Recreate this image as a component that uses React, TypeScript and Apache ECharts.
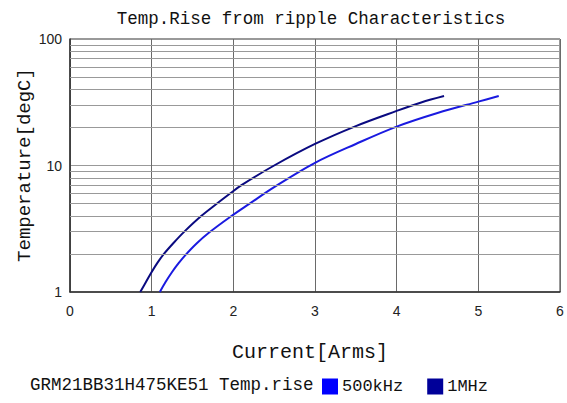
import React, { useEffect, useRef } from "react";
import * as echarts from "echarts";

const titleText = "Temp.Rise from ripple Characteristics";
const xName = "Current[Arms]";
const yName = "Temperature[degC]";
const partLabel = "GRM21BB31H475KE51 Temp.rise";
const seriesNames = ["500kHz", "1MHz"];
const seriesColors = ["#0000ff", "#000099"];

const data500k: [number, number][] = [
  [1.10, 1], [1.17, 1.2], [1.25, 1.44], [1.33, 1.69], [1.41, 1.95], [1.55, 2.42], [1.70, 2.94],
  [1.96, 3.92], [2.2, 5.0], [2.5, 6.75], [3, 10.5], [3.5, 14.8], [4, 20.3], [4.5, 26],
  [5, 32], [5.25, 35.4],
];
const data1M: [number, number][] = [
  [0.86, 1], [0.93, 1.2], [1.0, 1.44], [1.07, 1.7], [1.15, 2], [1.27, 2.45], [1.40, 3],
  [1.61, 4], [1.80, 5], [1.96, 6], [2.10, 7], [2.5, 10.0], [3, 14.8], [3.5, 20.5],
  [4, 27], [4.3, 31.5], [4.58, 35.4],
];
const minorGridValues = [2, 3, 4, 5, 6, 7, 8, 9, 20, 30, 40, 50, 60, 70, 80, 90];

const FONT = "'Liberation Mono', 'DejaVu Sans Mono', monospace";

export default function App() {
  const ref = useRef<HTMLDivElement>(null);
  useEffect(() => {
    if (!ref.current) return;
    const chart = echarts.init(ref.current, undefined, { renderer: "svg" });
    chart.setOption({
      animation: false,
      backgroundColor: "#ffffff",
      title: {
        text: titleText,
        left: 306,
        textAlign: "center",
        top: 5,
        textStyle: { fontFamily: FONT, fontSize: 17.5, fontWeight: "normal", color: "#111" },
      },
      grid: {
        left: 70, right: 7, top: 39, bottom: 111,
        show: true, borderColor: "#333", borderWidth: 1,
      },
      xAxis: {
        type: "value", min: 0, max: 6, interval: 1,
        name: xName, nameLocation: "middle", nameGap: 50,
        nameTextStyle: { fontFamily: FONT, fontSize: 20, color: "#111", padding: [0, 10, 0, 0] },
        axisLine: { show: true, lineStyle: { color: "#333", width: 1.5 } },
        axisTick: { show: false },
        axisLabel: { fontFamily: "'Liberation Sans', sans-serif", fontSize: 14, color: "#222", margin: 12 },
        splitLine: { show: true, lineStyle: { color: "#6a6a6a", width: 1 } },
      },
      yAxis: {
        type: "log", logBase: 10, min: 1, max: 100,
        axisLine: { show: true, lineStyle: { color: "#333", width: 1.5 } },
        axisTick: { show: false },
        axisLabel: { fontFamily: "'Liberation Sans', sans-serif", fontSize: 14, color: "#222", margin: 8 },
        splitLine: { show: true, lineStyle: { color: "#999", width: 1 } },
      },
      legend: {
        left: 322, top: 378, padding: 0,
        itemWidth: 16, itemHeight: 16, itemGap: 24,
        icon: "rect",
        textStyle: { fontFamily: FONT, fontSize: 17, color: "#111", padding: [0, 0, 0, -1] },
        data: seriesNames,
      },
      graphic: [
        {
          type: "text", left: 30, top: 376,
          style: { text: partLabel, fontFamily: FONT, fontSize: 17.5, fill: "#111" },
        },
        {
          type: "text", x: 25, y: 165, rotation: Math.PI / 2,
          style: {
            text: yName, fontFamily: FONT, fontSize: 19, fill: "#111",
            align: "center", verticalAlign: "middle",
          },
        },
      ],
      series: [
        {
          name: "grid-minor", type: "line", data: [], silent: true,
          markLine: {
            silent: true, symbol: "none", label: { show: false },
            lineStyle: { color: "#999", width: 1, type: "solid" },
            data: minorGridValues.map((v) => ({ yAxis: v })),
          },
        },
        {
          name: seriesNames[0], type: "line", data: data500k, smooth: 0.35,
          showSymbol: false, color: seriesColors[0],
          lineStyle: { color: "#1a1ae0", width: 2 },
        },
        {
          name: seriesNames[1], type: "line", data: data1M, smooth: 0.35,
          showSymbol: false, color: seriesColors[1],
          lineStyle: { color: "#0a0a80", width: 2 },
        },
      ],
    });
    return () => chart.dispose();
  }, []);
  return <div ref={ref} style={{ width: 567, height: 403, position: "absolute", left: 0, top: 0 }} />;
}
